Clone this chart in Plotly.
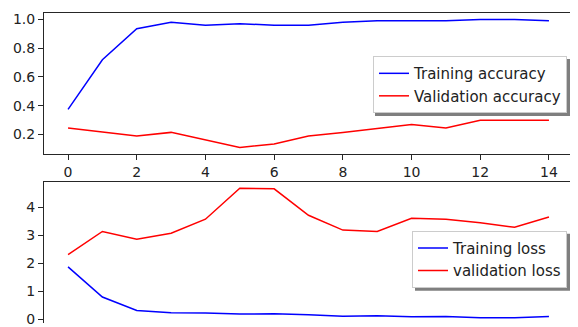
import plotly.graph_objects as go

epochs = list(range(15))
train_acc = [0.375, 0.72, 0.935, 0.98, 0.96, 0.97, 0.96, 0.96, 0.98, 0.99, 0.99, 0.99, 1.0, 1.0, 0.99]
val_acc = [0.245, 0.22, 0.19, 0.215, 0.16, 0.11, 0.135, 0.19, 0.215, 0.245, 0.27, 0.245, 0.30, 0.30, 0.30]
train_loss = [1.87, 0.79, 0.31, 0.23, 0.22, 0.18, 0.19, 0.16, 0.10, 0.12, 0.08, 0.09, 0.05, 0.05, 0.09]
val_loss = [2.31, 3.14, 2.86, 3.08, 3.58, 4.69, 4.67, 3.72, 3.19, 3.14, 3.61, 3.58, 3.45, 3.29, 3.66]

acc_ticks = [0.2, 0.4, 0.6, 0.8, 1.0]
loss_ticks = [0, 1, 2, 3, 4]
x_ticks = [0, 2, 4, 6, 8, 10, 12, 14]

FONT = "DejaVu Sans"
BLUE = "#0000ff"
RED = "#ff0000"
LINE = "#262626"
LEG_FONT = 15

fig = go.Figure()
fig.add_trace(go.Scatter(x=epochs, y=train_acc, mode="lines", name="Training accuracy",
                         line=dict(color=BLUE, width=1.5), xaxis="x", yaxis="y", legend="legend"))
fig.add_trace(go.Scatter(x=epochs, y=val_acc, mode="lines", name="Validation accuracy",
                         line=dict(color=RED, width=1.5), xaxis="x", yaxis="y", legend="legend"))
fig.add_trace(go.Scatter(x=epochs, y=train_loss, mode="lines", name="Training loss",
                         line=dict(color=BLUE, width=1.5), xaxis="x2", yaxis="y2", legend="legend2"))
fig.add_trace(go.Scatter(x=epochs, y=val_loss, mode="lines", name="validation loss",
                         line=dict(color=RED, width=1.5), xaxis="x2", yaxis="y2", legend="legend2"))

axis_common = dict(showgrid=False, zeroline=False, showline=True, linecolor=LINE, linewidth=1,
                   tickfont=dict(family=FONT, size=14, color="#222"), ticks="outside",
                   ticklen=5, tickcolor=LINE, tickwidth=1, ticklabeloverflow="allow")

legend_common = dict(font=dict(family=FONT, size=LEG_FONT, color="#222"), bgcolor="white",
                     bordercolor="#cccccc", borderwidth=1, xanchor="right", yanchor="middle",
                     tracegroupgap=0, itemwidth=30)

LEG_X = 0.98866
LEG1_Y = 0.7691
LEG2_Y = 0.2054
# plotly legend box height for two one-line entries: 2*(1.3*font+3) + 12
LEG_H = 2 * (1.3 * LEG_FONT + 3) + 12


def shadow(yc, w, h):
    return dict(type="rect", xref="paper", yref="paper", xsizemode="pixel", ysizemode="pixel",
                xanchor=LEG_X, yanchor=yc, x0=-w + 3, x1=3, y0=-h / 2 - 3, y1=h / 2 - 3,
                fillcolor="rgba(0,0,0,0.5)", line=dict(width=0), layer="above")


fig.update_layout(
    width=570, height=319,
    margin=dict(l=36, r=5, t=5, b=0),
    paper_bgcolor="white", plot_bgcolor="white",
    xaxis=dict(axis_common, domain=[0, 1], anchor="y", range=[-0.7, 14.7], tickvals=x_ticks,
               mirror=True),
    yaxis=dict(axis_common, domain=[0.5455, 1], anchor="x", range=[0.0655, 1.0445],
               tickvals=acc_ticks, tickformat=".1f", mirror=True),
    xaxis2=dict(axis_common, domain=[0, 1], anchor="y2", range=[-0.7, 14.7], side="top",
                ticks="", showticklabels=False),
    yaxis2=dict(axis_common, domain=[0, 0.4545], anchor="x2", range=[-0.14, 4.91],
                tickvals=loss_ticks, mirror=True),
    legend=dict(legend_common, x=LEG_X, y=LEG1_Y),
    legend2=dict(legend_common, x=LEG_X, y=LEG2_Y),
    shapes=[shadow(LEG1_Y, 195, LEG_H), shadow(LEG2_Y, 155, LEG_H)],
    showlegend=True,
)

fig.write_html("out.html")
